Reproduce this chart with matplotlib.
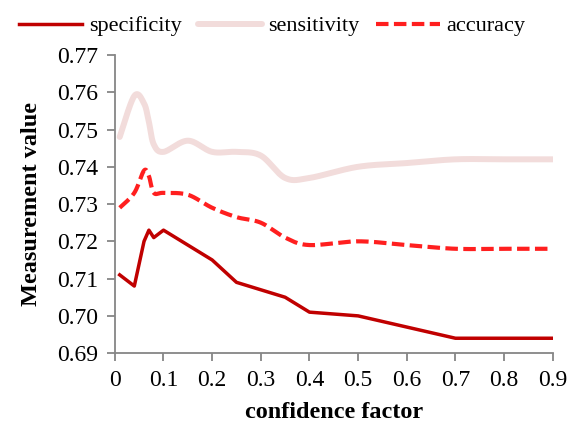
import numpy as np
import matplotlib
matplotlib.use("Agg")
import matplotlib.pyplot as plt

plt.rcParams['font.family'] = ['Liberation Serif', 'DejaVu Serif']

# data
cf = [0.01, 0.04, 0.06, 0.07, 0.08, 0.1, 0.15, 0.2, 0.25, 0.3, 0.35, 0.4, 0.5, 0.6, 0.7, 0.8, 0.9]
specificity = [0.711, 0.708, 0.720, 0.723, 0.721, 0.723, 0.719, 0.715, 0.709, 0.707, 0.705, 0.701, 0.700, 0.697, 0.694, 0.694, 0.694]
sensitivity = [0.748, 0.759, 0.757, 0.752, 0.746, 0.744, 0.747, 0.744, 0.744, 0.743, 0.737, 0.737, 0.740, 0.741, 0.742, 0.742, 0.742]
accuracy = [0.729, 0.733, 0.739, 0.7375, 0.733, 0.733, 0.7325, 0.729, 0.7265, 0.725, 0.721, 0.719, 0.720, 0.719, 0.718, 0.718, 0.718]

xlim = (0, 0.9)
ylim = (0.69, 0.77)


def smooth(x, y, n=30):
    # excel-like smoothed line: bezier with catmull-rom control points,
    # worked out in normalised axis units
    x = np.asarray(x, float)
    y = np.asarray(y, float)
    sx = (x - xlim[0]) / (xlim[1] - xlim[0])
    sy = (y - ylim[0]) / (ylim[1] - ylim[0]) * 0.68
    p = np.column_stack([sx, sy])
    pts = []
    t = np.linspace(0, 1, n)[:, None]
    for i in range(len(p) - 1):
        p0 = p[max(i - 1, 0)]
        p1 = p[i]
        p2 = p[i + 1]
        p3 = p[min(i + 2, len(p) - 1)]
        c1 = p1 + (p2 - p0) / 6
        c2 = p2 - (p3 - p1) / 6
        seg = ((1 - t) ** 3) * p1 + 3 * ((1 - t) ** 2) * t * c1 + 3 * (1 - t) * t ** 2 * c2 + t ** 3 * p2
        pts.append(seg if i == 0 else seg[1:])
    pts = np.vstack(pts)
    xs = pts[:, 0] * (xlim[1] - xlim[0]) + xlim[0]
    ys = pts[:, 1] / 0.68 * (ylim[1] - ylim[0]) + ylim[0]
    return xs, ys


fig = plt.figure(figsize=(5.8, 4.26), dpi=100)
ax = fig.add_axes([0.198, 0.171, 0.755, 0.700])

ax.plot(cf, specificity, color='#C00000', lw=2.5, label='specificity')
sx, sy = smooth(cf, sensitivity)
ax.plot(sx, sy, color='#F2DCDB', lw=4.3, solid_capstyle='round', label='sensitivity')
ax_, ay = smooth(cf, accuracy)
ax.plot(ax_, ay, color='#FF1F1F', lw=3.0, dashes=(3.0, 1.3), label='accuracy')

ax.set_xlim(*xlim)
ax.set_ylim(*ylim)
ax.set_xticks(np.arange(0, 0.91, 0.1))
ax.set_xticklabels(['0', '0.1', '0.2', '0.3', '0.4', '0.5', '0.6', '0.7', '0.8', '0.9'])
ax.set_yticks(np.arange(0.69, 0.7701, 0.01))
ax.set_yticklabels([f'{v:.2f}' for v in np.arange(0.69, 0.7701, 0.01)])

for side in ['top', 'right']:
    ax.spines[side].set_visible(False)
for side in ['left', 'bottom']:
    ax.spines[side].set_color('#868686')
    ax.spines[side].set_linewidth(1.3)
ax.tick_params(axis='both', colors='#868686', width=1.3, length=6, labelsize=17,
               labelcolor='black', pad=6)

ax.set_xlabel('confidence factor', fontsize=17.5, fontweight='bold', labelpad=8)
ax.set_ylabel('Measurement value', fontsize=17.5, fontweight='bold', labelpad=11)

fig.legend(loc='upper center', bbox_to_anchor=(0.469, 1.01), ncol=3, frameon=False,
           fontsize=16, handlelength=2.85, handletextpad=0.3, columnspacing=0.75)

fig.savefig('out.png', dpi=100)
